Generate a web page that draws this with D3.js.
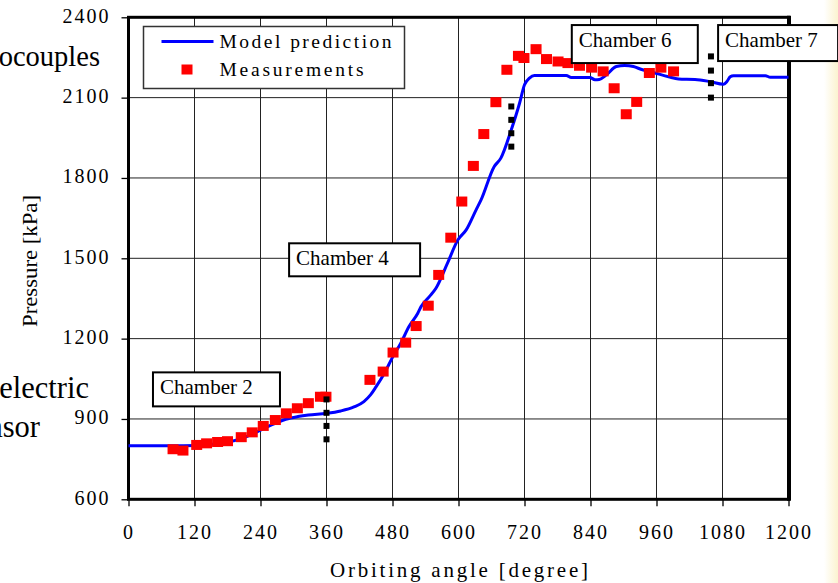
<!DOCTYPE html>
<html>
<head>
<meta charset="utf-8">
<script src="https://cdn.jsdelivr.net/npm/d3@7"></script>
<style>
  body { margin: 0; background: #fff; }
  svg { display: block; font-family: "Liberation Serif", "Times New Roman", serif; }
  .grid line { stroke: #222; stroke-width: 1; }
  .axis path { display: none; }
  .axis line { stroke: #000; stroke-width: 1.3; }
  .axis text { font-family: "Liberation Serif", "Times New Roman", serif; font-size: 20px; fill: #000; letter-spacing: 2px; }
</style>
</head>
<body>
<svg id="chart" width="838" height="583"></svg>
<script>
// model prediction (blue curve)
var modelAngles = [0, 60, 100, 150, 180, 210, 240, 260, 286, 308, 327, 360, 386, 410, 428, 440, 450, 465, 480, 495, 510, 526,
  532, 547, 559, 580, 599, 614, 632, 641, 665, 677, 696, 711, 720, 729, 738, 796, 805, 839, 848, 856, 869, 887, 902, 918,
  933, 957, 982, 1000, 1030, 1057, 1082, 1088, 1094, 1100, 1158, 1167, 1200];
var modelPressures = [800, 800, 800, 805, 813, 830, 858, 878, 899, 909, 915, 921, 930, 945, 965, 990, 1020, 1070, 1130, 1183, 1245, 1295,
  1320, 1357, 1388, 1482, 1569, 1606, 1681, 1718, 1843, 1874, 1980, 2079, 2148, 2173, 2183, 2183, 2175, 2175, 2167, 2168, 2185, 2216, 2220, 2216,
  2205, 2192, 2178, 2170, 2168, 2160, 2150, 2160, 2178, 2182, 2182, 2176, 2176];

// measurements (red squares)
var measAngles = [81, 99, 124, 142, 162, 180, 205, 225, 245, 267, 287, 307, 327, 349, 359, 439, 463, 481, 504, 523, 545, 564,
  586, 606, 627, 646, 668, 688, 709, 719, 741, 760, 781, 799, 820, 842, 863, 883, 905, 924, 947, 968, 991];
var measPressures = [787, 782, 803, 809, 814, 817, 832, 850, 874, 896, 921, 940, 959, 983, 983, 1046, 1077, 1148, 1185, 1247, 1323, 1438,
  1577, 1712, 1845, 1964, 2083, 2204, 2256, 2248, 2281, 2244, 2235, 2229, 2219, 2212, 2198, 2135, 2038, 2084, 2192, 2212, 2198];

// chamber boundaries (black dotted marks)
var boundaryAngles = [360, 696, 1059];
var boundaryPressures = [[973, 923, 874, 824], [2067, 2017, 1967, 1917], [2254, 2201, 2154, 2100]];

var xTicks = [0, 120, 240, 360, 480, 600, 720, 840, 960, 1080, 1200];
var yTicks = [600, 900, 1200, 1500, 1800, 2100, 2400];

// chamber labels, box top-left given in data units
var chamberNames = ['Chamber 2', 'Chamber 4', 'Chamber 6', 'Chamber 7'];
var chamberAngles = [44.5, 292, 806, 1072];
var chamberPressures = [1074, 1556, 2371, 2371];
var chamberWidths = [127, 131, 126, 120];
var chamberHeights = [34, 33, 38, 36];

var svg = d3.select('#chart');

// pale slide edge at right
var defs = svg.append('defs');
var grad = defs.append('linearGradient').attr('id', 'edge');
grad.append('stop').attr('offset', '0%').attr('stop-color', '#fff');
grad.append('stop').attr('offset', '100%').attr('stop-color', '#fbf3cf');
svg.append('rect').attr('x', 824).attr('y', 0).attr('width', 14).attr('height', 583).attr('fill', 'url(#edge)');

// slide text cut by the left edge
svg.append('g').attr('text-anchor', 'end')
  .selectAll('text')
  .data([['Thermocouples', 100, 66, 28.5], ['Piezoelectric', 89, 398, 30.5], ['sensor', 40, 437, 30.5]])
  .enter().append('text')
    .attr('x', function(d) { return d[1]; })
    .attr('y', function(d) { return d[2]; })
    .attr('font-size', function(d) { return d[3]; })
    .text(function(d) { return d[0]; });

var x = d3.scaleLinear().domain([0, 1200]).range([128.5, 788.5]);
var y = d3.scaleLinear().domain([600, 2400]).range([499.3, 17.3]);

// grid
var grid = svg.append('g').attr('class', 'grid');
grid.selectAll('.gx').data(xTicks.slice(1, -1)).enter().append('line')
  .attr('x1', x).attr('x2', x).attr('y1', y(2400)).attr('y2', y(600));
grid.selectAll('.gy').data(yTicks.slice(1, -1)).enter().append('line')
  .attr('x1', x(0)).attr('x2', x(1200)).attr('y1', y).attr('y2', y);

// axes
svg.append('g').attr('class', 'axis')
  .attr('transform', 'translate(0,' + y(600) + ')')
  .call(d3.axisBottom(x).tickValues(xTicks).tickSize(7).tickPadding(19).tickFormat(d3.format('d')))
  .attr('font-family', null);
svg.append('g').attr('class', 'axis')
  .attr('transform', 'translate(' + x(0) + ',0)')
  .call(d3.axisLeft(y).tickValues(yTicks).tickSize(7).tickPadding(11).tickFormat(d3.format('d')))
  .attr('font-family', null)
  .selectAll('text').attr('dy', '0.25em');

// plot frame
svg.append('rect')
  .attr('x', x(0)).attr('y', y(2400))
  .attr('width', x(1200) - x(0)).attr('height', y(600) - y(2400))
  .attr('fill', 'none').attr('stroke', '#000').attr('stroke-width', 3);
svg.append('line').attr('x1', x(1200) + 0.5).attr('x2', x(1200) + 0.5)
  .attr('y1', y(2400) - 1.5).attr('y2', y(600) + 1.5)
  .attr('stroke', '#000').attr('stroke-width', 4);

// model curve
var line = d3.line()
  .x(function(d) { return x(d[0]); })
  .y(function(d) { return y(d[1]); })
  .curve(d3.curveMonotoneX);
svg.append('path')
  .datum(d3.zip(modelAngles, modelPressures))
  .attr('d', line)
  .attr('fill', 'none').attr('stroke', '#0000ff').attr('stroke-width', 3);

// measurements
svg.append('g').selectAll('rect')
  .data(d3.zip(measAngles, measPressures))
  .enter().append('rect')
    .attr('x', function(d) { return x(d[0]) - 5.5; })
    .attr('y', function(d) { return y(d[1]) - 5; })
    .attr('width', 11).attr('height', 10)
    .attr('fill', '#ff0000');

// chamber boundaries
var bounds = [];
boundaryAngles.forEach(function(a, i) {
  boundaryPressures[i].forEach(function(p) { bounds.push([a, p]); });
});
svg.append('g').selectAll('rect')
  .data(bounds)
  .enter().append('rect')
    .attr('x', function(d) { return x(d[0]) - 3; })
    .attr('y', function(d) { return y(d[1]) - 3; })
    .attr('width', 6).attr('height', 6)
    .attr('fill', '#000');

// chamber labels
var boxes = svg.append('g').selectAll('g')
  .data(chamberNames)
  .enter().append('g')
    .attr('transform', function(d, i) {
      return 'translate(' + x(chamberAngles[i]) + ',' + y(chamberPressures[i]) + ')';
    });
boxes.append('rect')
  .attr('width', function(d, i) { return chamberWidths[i]; })
  .attr('height', function(d, i) { return chamberHeights[i]; })
  .attr('fill', '#fff').attr('stroke', '#000').attr('stroke-width', 2);
boxes.append('text')
  .attr('x', 7).attr('y', 22)
  .attr('font-size', 21)
  .text(function(d) { return d; });

// legend
var legend = svg.append('g').attr('transform', 'translate(143.5,26.5)');
legend.append('rect').attr('width', 261).attr('height', 62)
  .attr('fill', '#fff').attr('stroke', '#333').attr('stroke-width', 1.5);
legend.append('line').attr('x1', 18).attr('x2', 70).attr('y1', 15).attr('y2', 15)
  .attr('stroke', '#0000ff').attr('stroke-width', 3);
legend.append('rect').attr('x', 38).attr('y', 38).attr('width', 11).attr('height', 10).attr('fill', '#ff0000');
legend.append('text').attr('x', 76).attr('y', 21).attr('font-size', 19.5)
  .attr('textLength', 172).attr('lengthAdjust', 'spacing').text('Model prediction');
legend.append('text').attr('x', 76).attr('y', 49).attr('font-size', 19.5)
  .attr('textLength', 144).attr('lengthAdjust', 'spacing').text('Measurements');

// axis titles
svg.append('text')
  .attr('x', 330).attr('y', 577).attr('font-size', 21)
  .attr('textLength', 258).attr('lengthAdjust', 'spacing')
  .text('Orbiting angle  [degree]');
svg.append('text')
  .attr('transform', 'translate(37,327) rotate(-90)')
  .attr('font-size', 21)
  .attr('textLength', 132).attr('lengthAdjust', 'spacingAndGlyphs')
  .text('Pressure  [kPa]');
</script>
</body>
</html>
